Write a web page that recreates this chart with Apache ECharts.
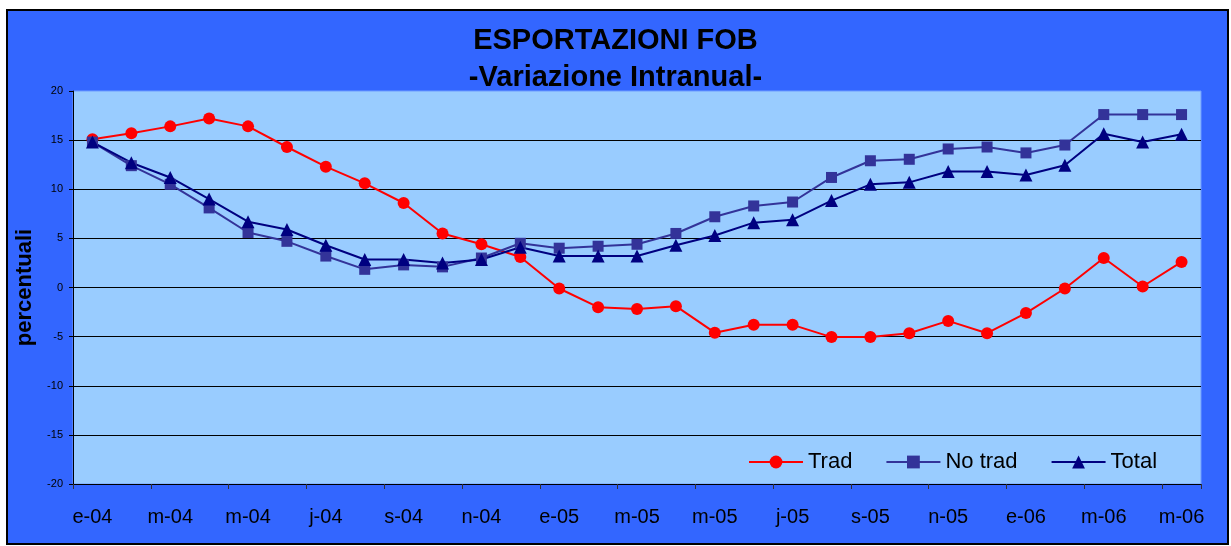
<!DOCTYPE html>
<html>
<head>
<meta charset="utf-8">
<script src="https://cdn.jsdelivr.net/npm/echarts@6/dist/echarts.min.js"></script>
<style>
  html, body { margin: 0; padding: 0; background: #ffffff; }
  #chart { width: 1231px; height: 546px; }
</style>
</head>
<body>
<div id="chart"></div>
<script>
// mesi (e-04 ... m-06)
var months = ['e-04','f-04','m-04','a-04','m-04','j-04','j-04','a-04','s-04','o-04','n-04','d-04',
              'e-05','f-05','m-05','a-05','m-05','j-05','j-05','a-05','s-05','o-05','n-05','d-05',
              'e-06','f-06','m-06','a-06','m-06'];
var trad   = [15.1, 15.7, 16.4, 17.2, 16.4, 14.3, 12.3, 10.6, 8.6, 5.5, 4.4, 3.1, -0.1, -2.0, -2.2,
              -1.9, -4.6, -3.8, -3.8, -5.05, -5.05, -4.65, -3.4, -4.65, -2.6, -0.1, 3.0, 0.1, 2.6];
var noTrad = [14.8, 12.4, 10.5, 8.1, 5.6, 4.7, 3.2, 1.85, 2.3, 2.1, 3.0, 4.5, 4.0, 4.2, 4.4,
              5.5, 7.2, 8.3, 8.7, 11.2, 12.9, 13.05, 14.1, 14.3, 13.7, 14.5, 17.6, 17.6, 17.6];
var total  = [14.8, 12.7, 11.2, 9.0, 6.7, 5.9, 4.3, 2.85, 2.85, 2.5, 2.85, 4.1, 3.2, 3.2, 3.2,
              4.3, 5.3, 6.6, 6.9, 8.85, 10.5, 10.7, 11.8, 11.8, 11.45, 12.45, 15.65, 14.8, 15.6];

var font = 'Liberation Sans, Arial, sans-serif';
var chart = echarts.init(document.getElementById('chart'));

// una serie di linea
function lineSerie(name, data, color, symbol, size) {
    return {
        name: name, type: 'line', data: data,
        symbol: symbol, symbolSize: size,
        itemStyle: { color: color },
        lineStyle: { color: color, width: 2 },
        animation: false
    };
}

var option = {
    backgroundColor: '#ffffff',
    animation: false,
    graphic: [{
        type: 'rect', z: -10, silent: true,
        shape: { x: 7, y: 10, width: 1221, height: 534 },
        style: { fill: '#3366ff', stroke: '#000000', lineWidth: 2 }
    }],
    title: [{
        text: 'ESPORTAZIONI FOB',
        left: 'center', top: 21, padding: [5, 5, 5, 19],
        textStyle: { fontFamily: font, fontSize: 29, fontWeight: 'bold', color: '#000' }
    }, {
        text: '-Variazione Intranual-',
        left: 'center', top: 58, padding: [5, 5, 5, 19],
        textStyle: { fontFamily: font, fontSize: 29, fontWeight: 'bold', color: '#000' }
    }],
    legend: {
        left: 748, top: 451, padding: 0,
        itemWidth: 54, itemHeight: 16, itemGap: 33,
        selectedMode: false,
        textStyle: { fontFamily: font, fontSize: 22, color: '#000' },
        data: ['Trad', 'No trad', 'Total']
    },
    grid: {
        left: 73, top: 91, width: 1128, height: 393,
        show: true, backgroundColor: '#99ccff',
        borderColor: '#6f9cff', borderWidth: 1
    },
    xAxis: {
        type: 'category', data: months, boundaryGap: true,
        axisLine: { onZero: false, lineStyle: { color: '#000', width: 1 } },
        axisTick: { show: true, interval: 1, length: 5, lineStyle: { color: '#333' } },
        axisLabel: { interval: 1, fontFamily: font, fontSize: 20, color: '#000', margin: 23 },
        splitLine: { show: false }
    },
    yAxis: {
        type: 'value', min: -20, max: 20, interval: 5,
        name: 'percentuali', nameLocation: 'middle', nameRotate: 90, nameGap: 33,
        nameTextStyle: { fontFamily: font, fontSize: 22, fontWeight: 'bold', color: '#000' },
        axisLine: { show: true, lineStyle: { color: '#000', width: 1 } },
        axisTick: { show: true, length: 4, lineStyle: { color: '#000' } },
        axisLabel: { fontFamily: font, fontSize: 11, color: '#000', margin: 10 },
        splitLine: { show: true, showMaxLine: false, lineStyle: { color: '#000', width: 1 } }
    },
    series: [
        lineSerie('Trad', trad, '#ff0000', 'circle', 12),
        lineSerie('No trad', noTrad, '#333399', 'rect', 11),
        lineSerie('Total', total, '#000080', 'triangle', 13)
    ]
};
chart.setOption(option);
</script>
</body>
</html>
